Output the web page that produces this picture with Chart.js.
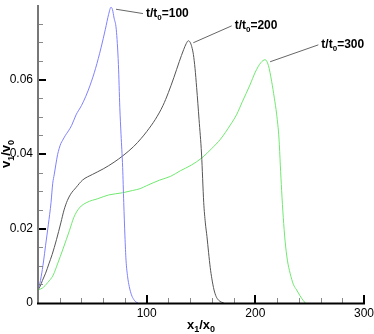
<!DOCTYPE html>
<html>
<head>
<meta charset="utf-8">
<script src="https://cdn.jsdelivr.net/npm/chart.js@4"></script>
<style>
html, body { margin: 0; padding: 0; background: #fff; }
#wrap { width: 374px; height: 334px; }
</style>
</head>
<body>
<div id="wrap"><canvas id="chart" width="374" height="334"></canvas></div>
<script>
// t/t0 = 100
const t100X = [0, 1.5, 3, 5, 7, 9.5, 12, 13.5, 15, 16.5, 18, 19.5, 21, 22.7, 25, 28, 31, 35, 40, 44, 48, 53, 58, 62, 65, 67.2, 68.5, 70, 72, 74, 75.3, 76.4, 77.9, 78.9, 80, 81, 82.5, 84, 86, 88, 90, 92];
const t100V = [0.0035, 0.005, 0.0072, 0.011, 0.0155, 0.021, 0.027, 0.032, 0.0346, 0.0373, 0.0398, 0.0415, 0.0428, 0.0437, 0.0449, 0.0462, 0.0477, 0.0505, 0.053, 0.0555, 0.0585, 0.063, 0.0685, 0.0735, 0.0775, 0.0794, 0.0788, 0.0765, 0.0735, 0.064, 0.0524, 0.0453, 0.0364, 0.027, 0.018, 0.0115, 0.007, 0.0044, 0.0022, 0.001, 0.0003, 0];

// t/t0 = 200
const t200X = [0, 2, 4, 7, 10, 13, 17, 21, 24, 27, 30, 35, 41, 50, 60, 70, 78, 88, 95, 100, 108, 115, 120, 125, 130, 134, 136.5, 138.3, 140, 141.5, 143, 144.5, 146, 148.2, 150.5, 152.5, 154, 155.5, 157, 158.5, 160, 162, 164, 166, 169, 171];
const t200V = [0.0035, 0.0045, 0.006, 0.008, 0.0105, 0.013, 0.017, 0.0215, 0.025, 0.0275, 0.0292, 0.031, 0.033, 0.0345, 0.036, 0.0378, 0.0395, 0.042, 0.0442, 0.046, 0.0493, 0.053, 0.0565, 0.0605, 0.0648, 0.068, 0.0697, 0.0704, 0.0700, 0.0688, 0.0667, 0.0630, 0.0578, 0.0493, 0.040, 0.027, 0.0215, 0.0178, 0.0135, 0.0095, 0.0065, 0.0035, 0.0017, 0.0008, 0.0002, 0];

// t/t0 = 300
const t300X = [0, 4, 9, 14, 18, 23, 29, 33, 38, 45, 55, 65, 78, 87, 94, 100, 112, 122, 131, 141, 151, 160, 168, 177, 183, 188, 195, 200, 205, 209, 212, 215, 217.5, 219.6, 221.8, 223, 224.2, 225.7, 227.3, 229.5, 232, 235, 238, 241, 244, 246];
const t300V = [0.0035, 0.004, 0.0055, 0.0075, 0.0105, 0.0145, 0.0195, 0.023, 0.0255, 0.027, 0.028, 0.029, 0.0296, 0.0302, 0.0307, 0.0315, 0.033, 0.034, 0.0355, 0.037, 0.039, 0.0415, 0.044, 0.0478, 0.0507, 0.054, 0.0585, 0.062, 0.0645, 0.0653, 0.0638, 0.0595, 0.055, 0.0507, 0.044, 0.037, 0.0302, 0.023, 0.0169, 0.0115, 0.008, 0.005, 0.0035, 0.002, 0.0007, 0];

const curveTimes = ['100', '200', '300'];
const xTickLabels = [100, 200, 300];
const yTickLabels = [0, 0.02, 0.04, 0.06];

const FONT = "'Liberation Sans', Arial, Helvetica, sans-serif";

// where each leader line ends (data units), text starts just right of it
const leaderEnds = [
    { x: 96.6, y: 0.0777 },
    { x: 178.2, y: 0.0744 },
    { x: 258, y: 0.0693 },
];

const toPts = (xs, vs) => xs.map((x, i) => ({ x, y: vs[i] }));

function isLabelY(v) {
    return yTickLabels.some(l => Math.abs(l - v) < 1e-9);
}

// draw text with subscripts, parts = [[text, isSub], ...]
function drawSub(ctx, parts, x, y, size) {
    let cx = x;
    parts.forEach(([t, sub]) => {
        ctx.font = 'bold ' + (sub ? Math.round(size * 0.68) : size) + 'px ' + FONT;
        ctx.fillText(t, cx, sub ? y + size * 0.28 : y);
        cx += ctx.measureText(t).width;
    });
    return cx - x;
}

function subWidth(ctx, parts, size) {
    let w = 0;
    parts.forEach(([t, sub]) => {
        ctx.font = 'bold ' + (sub ? Math.round(size * 0.68) : size) + 'px ' + FONT;
        w += ctx.measureText(t).width;
    });
    return w;
}

const tecAxes = {
    id: 'tecAxes',
    afterDatasetsDraw(chart) {
        const { ctx, chartArea: a, scales: { x, y } } = chart;
        ctx.save();

        // y ticks (inward)
        y.ticks.forEach(t => {
            if (t.value <= 0 || t.value >= y.max - 1e-9) return;
            const py = Math.round(y.getPixelForValue(t.value));
            const major = isLabelY(t.value);
            ctx.strokeStyle = major ? '#000' : '#888';
            ctx.lineWidth = major ? 2 : 1;
            ctx.beginPath();
            ctx.moveTo(a.left, major ? py : py + 0.5);
            ctx.lineTo(a.left + (major ? 8 : 5), major ? py : py + 0.5);
            ctx.stroke();
        });

        // x ticks (inward)
        x.ticks.forEach(t => {
            if (t.value <= 0) return;
            const px = Math.round(x.getPixelForValue(t.value));
            const major = xTickLabels.includes(t.value);
            ctx.strokeStyle = major ? '#000' : '#888';
            ctx.lineWidth = major ? 2 : 1;
            ctx.beginPath();
            ctx.moveTo(major ? px : px + 0.5, a.bottom);
            ctx.lineTo(major ? px : px + 0.5, a.bottom - (major ? 8 : 5));
            ctx.stroke();
        });

        // axis lines
        ctx.lineWidth = 2;
        ctx.strokeStyle = '#777';
        ctx.beginPath();
        ctx.moveTo(a.left, a.top);
        ctx.lineTo(a.left, a.bottom + 1);
        ctx.stroke();
        ctx.strokeStyle = '#000';
        ctx.beginPath();
        ctx.moveTo(a.left - 1, a.bottom + 0.5);
        ctx.lineTo(a.right + 1, a.bottom + 0.5);
        ctx.stroke();

        // curve labels with leader lines
        ctx.fillStyle = '#000';
        ctx.textBaseline = 'alphabetic';
        ctx.textAlign = 'left';
        chart.data.datasets.forEach((ds, i) => {
            let peak = ds.data[0];
            ds.data.forEach(p => { if (p.y > peak.y) peak = p; });
            const sx = x.getPixelForValue(peak.x) + 5;
            const sy = y.getPixelForValue(peak.y) + 2;
            const ex = x.getPixelForValue(leaderEnds[i].x);
            const ey = y.getPixelForValue(leaderEnds[i].y);
            ctx.strokeStyle = '#666';
            ctx.lineWidth = 1;
            ctx.beginPath();
            ctx.moveTo(sx, sy);
            ctx.lineTo(ex, ey);
            ctx.stroke();
            drawSub(ctx, [['t/t', false], ['0', true], ['=' + curveTimes[i], false]], ex + 3, ey + 3, 12);
        });

        // axis titles
        const xt = [['x', false], ['1', true], ['/x', false], ['0', true]];
        const xw = subWidth(ctx, xt, 13);
        drawSub(ctx, xt, (a.left + a.right) / 2 - xw / 2, 328.5, 13);

        const yt = [['v', false], ['1', true], ['/v', false], ['0', true]];
        const yw = subWidth(ctx, yt, 13);
        ctx.translate(10, (a.top + a.bottom) / 2);
        ctx.rotate(-Math.PI / 2);
        drawSub(ctx, yt, -yw / 2, 0, 13);

        ctx.restore();
    }
};

new Chart(document.getElementById('chart'), {
    type: 'line',
    data: {
        datasets: [
            { data: toPts(t100X, t100V), borderColor: '#8080ff' },
            { data: toPts(t200X, t200V), borderColor: '#555555' },
            { data: toPts(t300X, t300V), borderColor: '#70e870' },
        ],
    },
    options: {
        responsive: false,
        animation: false,
        layout: { padding: { top: 5, right: 10, left: 0, bottom: 0 } },
        elements: {
            line: { borderWidth: 1, cubicInterpolationMode: 'monotone', fill: false },
            point: { radius: 0 },
        },
        plugins: {
            legend: { display: false },
            tooltip: { enabled: false },
        },
        scales: {
            x: {
                type: 'linear',
                min: 0,
                max: 300,
                grid: { display: false, drawTicks: false },
                border: { display: false },
                ticks: {
                    stepSize: 20,
                    autoSkip: false,
                    maxRotation: 0,
                    padding: 3,
                    color: '#000',
                    font: { family: FONT, size: 12 },
                    callback: v => xTickLabels.includes(v) ? String(v) : '',
                },
                afterFit: s => {
                    s.height = 31;
                    s.paddingLeft = 0;
                    s.paddingRight = 0;
                },
            },
            y: {
                type: 'linear',
                min: 0,
                max: 0.08,
                grid: { display: false, drawTicks: false },
                border: { display: false },
                ticks: {
                    stepSize: 0.005,
                    autoSkip: false,
                    padding: 5,
                    color: '#000',
                    font: { family: FONT, size: 12 },
                    callback: v => isLabelY(v) ? (v === 0 ? '0' : v.toFixed(2)) : '',
                },
                afterFit: s => {
                    s.width = 38;
                    s.paddingTop = 0;
                    s.paddingBottom = 0;
                },
            },
        },
    },
    plugins: [tecAxes],
});
</script>
</body>
</html>
